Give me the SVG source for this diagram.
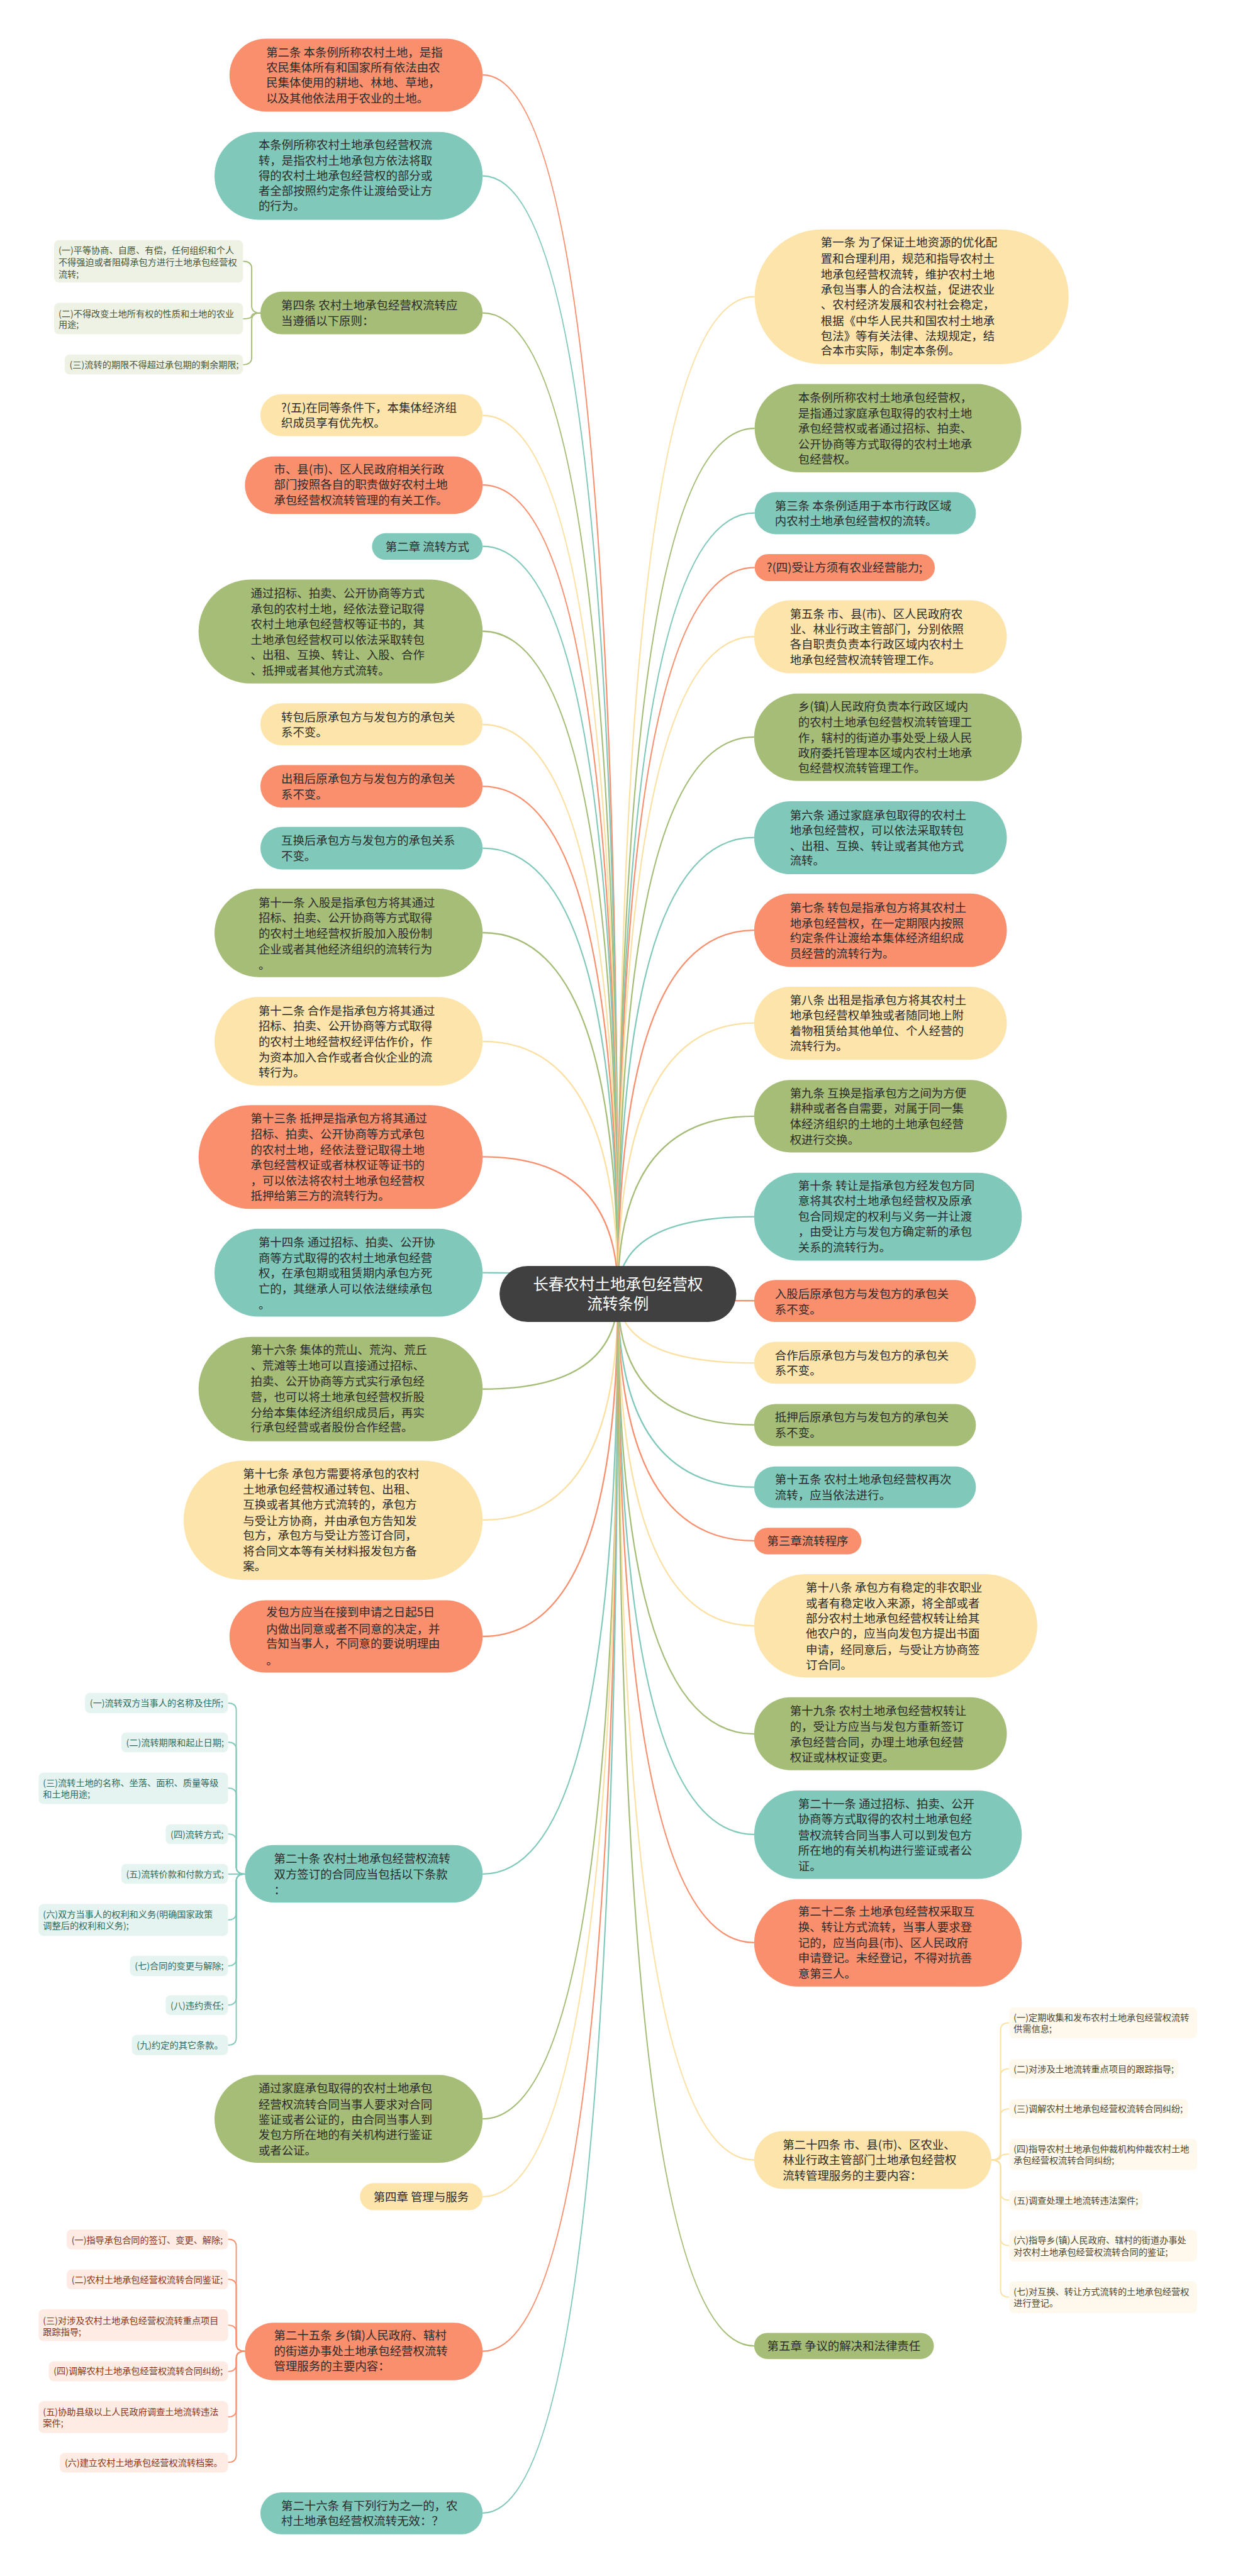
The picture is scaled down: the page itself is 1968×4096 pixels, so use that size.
<svg xmlns="http://www.w3.org/2000/svg" width="1968" height="4096" viewBox="0 0 1968 4096">
<style>
.t{font-family:'Noto Sans CJK SC','Noto Sans',sans-serif;font-size:24px;fill:#2b2b2b}
.lf{font-family:'Noto Sans CJK SC','Noto Sans',sans-serif;font-size:18.5px}
.rt{font-family:'Noto Sans CJK SC','Noto Sans',sans-serif;font-size:32px;fill:#ffffff;text-anchor:middle}
.c{fill:none;stroke-width:3}
.lc{fill:none;stroke-width:2.5}
.o{fill:#fa8f6e}.tl{fill:#80c9ba}.g{fill:#a5bd77}.y{fill:#fde4aa}
.so{stroke:#fa8f6e}.st{stroke:#80c9ba}.sg{stroke:#a5bd77}.sy{stroke:#fbe0a2}
.lgb{fill:#eef2e5}.ltb{fill:#e5f4f0}.lob{fill:#fdebe4}.lyb{fill:#fef9ec}
.lgt{fill:#4a5536}.ltt{fill:#2d6b60}.lot{fill:#8a3418}.lyt{fill:#4d4630}
</style>
<rect width="1968" height="4096" fill="#ffffff"/>
<g transform="scale(0.768)">
<g id="connectors">
<path class="c so" d="M1279,2679 Q1279,155 999,155"/>
<path class="c st" d="M1279,2679 Q1279,364 999,364"/>
<path class="c sg" d="M1279,2679 Q1279,648 999,648"/>
<path class="c sy" d="M1279,2679 Q1279,860 999,860"/>
<path class="c so" d="M1279,2679 Q1279,1004 999,1004"/>
<path class="c st" d="M1279,2679 Q1279,1131 999,1131"/>
<path class="c sg" d="M1279,2679 Q1279,1307 999,1307"/>
<path class="c sy" d="M1279,2679 Q1279,1500 999,1500"/>
<path class="c so" d="M1279,2679 Q1279,1628 999,1628"/>
<path class="c st" d="M1279,2679 Q1279,1756 999,1756"/>
<path class="c sg" d="M1279,2679 Q1279,1931 999,1931"/>
<path class="c sy" d="M1279,2679 Q1279,2156 999,2156"/>
<path class="c so" d="M1279,2679 Q1279,2395 999,2395"/>
<path class="c st" d="M1279,2679 Q1279,2635 999,2635"/>
<path class="c sg" d="M1279,2679 Q1279,2876 999,2876"/>
<path class="c sy" d="M1279,2679 Q1279,3147 999,3147"/>
<path class="c so" d="M1279,2679 Q1279,3388 999,3388"/>
<path class="c st" d="M1279,2679 Q1279,3880 999,3880"/>
<path class="c sg" d="M1279,2679 Q1279,4387 999,4387"/>
<path class="c sy" d="M1279,2679 Q1279,4548 999,4548"/>
<path class="c so" d="M1279,2679 Q1279,4868 999,4868"/>
<path class="c st" d="M1279,2679 Q1279,5203 999,5203"/>
<path class="c sy" d="M1279,2679 Q1279,614 1562,614"/>
<path class="c sg" d="M1279,2679 Q1279,887 1562,887"/>
<path class="c st" d="M1279,2679 Q1279,1062 1562,1062"/>
<path class="c so" d="M1279,2679 Q1279,1175 1562,1175"/>
<path class="c sy" d="M1279,2679 Q1279,1318 1561,1318"/>
<path class="c sg" d="M1279,2679 Q1279,1526 1561,1526"/>
<path class="c st" d="M1279,2679 Q1279,1734 1561,1734"/>
<path class="c so" d="M1279,2679 Q1279,1926 1561,1926"/>
<path class="c sy" d="M1279,2679 Q1279,2118 1561,2118"/>
<path class="c sg" d="M1279,2679 Q1279,2311 1561,2311"/>
<path class="c st" d="M1279,2679 Q1279,2519 1561,2519"/>
<path class="c so" d="M1279,2679 Q1279,2693 1561,2693"/>
<path class="c sy" d="M1279,2679 Q1279,2822 1561,2822"/>
<path class="c sg" d="M1279,2679 Q1279,2950 1561,2950"/>
<path class="c st" d="M1279,2679 Q1279,3079 1561,3079"/>
<path class="c so" d="M1279,2679 Q1279,3190 1561,3190"/>
<path class="c sy" d="M1279,2679 Q1279,3366 1561,3366"/>
<path class="c sg" d="M1279,2679 Q1279,3590 1561,3590"/>
<path class="c st" d="M1279,2679 Q1279,3798 1561,3798"/>
<path class="c so" d="M1279,2679 Q1279,4022 1561,4022"/>
<path class="c sy" d="M1279,2679 Q1279,4472 1561,4472"/>
<path class="c sg" d="M1279,2679 Q1279,4857 1561,4857"/>
<!-- leaf brackets: 第四条 -->
<path class="lc sg" d="M539,648 Q521,648 521,633 L521,556 Q521,541 503,541"/>
<path class="lc sg" d="M539,648 Q521,648 521,654 L521,654 Q521,660 503,660"/>
<path class="lc sg" d="M539,648 Q521,648 521,663 L521,740 Q521,755 503,755"/>
<!-- 第二十条 -->
<path class="lc st" d="M507,3880 Q489,3880 489,3865 L489,3541 Q489,3526 472,3526"/>
<path class="lc st" d="M507,3880 Q489,3880 489,3865 L489,3622 Q489,3607 472,3607"/>
<path class="lc st" d="M507,3880 Q489,3880 489,3865 L489,3717 Q489,3702 472,3702"/>
<path class="lc st" d="M507,3880 Q489,3880 489,3865 L489,3812 Q489,3797 472,3797"/>
<path class="lc st" d="M507,3880 L472,3880"/>
<path class="lc st" d="M507,3880 Q489,3880 489,3895 L489,3960 Q489,3975 472,3975"/>
<path class="lc st" d="M507,3880 Q489,3880 489,3895 L489,4055 Q489,4070 472,4070"/>
<path class="lc st" d="M507,3880 Q489,3880 489,3895 L489,4136 Q489,4151 472,4151"/>
<path class="lc st" d="M507,3880 Q489,3880 489,3895 L489,4219 Q489,4234 472,4234"/>
<!-- 第二十五条 -->
<path class="lc so" d="M507,4868 Q489,4868 489,4853 L489,4651 Q489,4636 472,4636"/>
<path class="lc so" d="M507,4868 Q489,4868 489,4853 L489,4734 Q489,4719 472,4719"/>
<path class="lc so" d="M507,4868 Q489,4868 489,4853 L489,4829 Q489,4814 472,4814"/>
<path class="lc so" d="M507,4868 Q489,4868 489,4883 L489,4895 Q489,4910 472,4910"/>
<path class="lc so" d="M507,4868 Q489,4868 489,4883 L489,4989 Q489,5004 472,5004"/>
<path class="lc so" d="M507,4868 Q489,4868 489,4883 L489,5083 Q489,5098 472,5098"/>
<!-- 第二十四条 -->
<path class="lc sy" d="M2052,4472 Q2071,4472 2071,4457 L2071,4203 Q2071,4188 2089,4188"/>
<path class="lc sy" d="M2052,4472 Q2071,4472 2071,4457 L2071,4298 Q2071,4283 2089,4283"/>
<path class="lc sy" d="M2052,4472 Q2071,4472 2071,4457 L2071,4381 Q2071,4366 2089,4366"/>
<path class="lc sy" d="M2052,4472 Q2071,4472 2071,4466 L2071,4466 Q2071,4460 2089,4460"/>
<path class="lc sy" d="M2052,4472 Q2071,4472 2071,4487 L2071,4540 Q2071,4555 2089,4555"/>
<path class="lc sy" d="M2052,4472 Q2071,4472 2071,4487 L2071,4634 Q2071,4649 2089,4649"/>
<path class="lc sy" d="M2052,4472 Q2071,4472 2071,4487 L2071,4741 Q2071,4756 2089,4756"/>
</g>

<g id="root">
<rect x="1034" y="2621" width="490" height="116" rx="58" fill="#404040"/>
<text class="rt"><tspan x="1279" y="2671">长春农村土地承包经营权</tspan><tspan x="1279" y="2711">流转条例</tspan></text>
</g>

<g id="n-art2"><rect class="o" x="475" y="80" width="524" height="151" rx="75.5"/>
<text class="t"><tspan x="551" y="117">第二条 本条例所称农村土地，是指</tspan><tspan x="551" y="148">农民集体所有和国家所有依法由农</tspan><tspan x="551" y="180">民集体使用的耕地、林地、草地，</tspan><tspan x="551" y="212">以及其他依法用于农业的土地。</tspan></text></g>

<g id="n-def"><rect class="tl" x="444" y="273" width="555" height="182" rx="91"/>
<text class="t"><tspan x="535" y="309">本条例所称农村土地承包经营权流</tspan><tspan x="535" y="341">转，是指农村土地承包方依法将取</tspan><tspan x="535" y="372">得的农村土地承包经营权的部分或</tspan><tspan x="535" y="404">者全部按照约定条件让渡给受让方</tspan><tspan x="535" y="435">的行为。</tspan></text></g>

<g id="n-art4"><rect class="g" x="539" y="604" width="460" height="88" rx="44"/>
<text class="t"><tspan x="582" y="640">第四条 农村土地承包经营权流转应</tspan><tspan x="582" y="673">当遵循以下原则：</tspan></text></g>
<g id="l-art4-1"><rect class="lgb" x="112" y="497" width="391" height="88" rx="10"/>
<text class="lf lgt"><tspan x="121" y="525">(一)平等协商、自愿、有偿，任何组织和个人</tspan><tspan x="121" y="549">不得强迫或者阻碍承包方进行土地承包经营权</tspan><tspan x="121" y="574">流转;</tspan></text></g>
<g id="l-art4-2"><rect class="lgb" x="112" y="627" width="391" height="65" rx="10"/>
<text class="lf lgt"><tspan x="121" y="656">(二)不得改变土地所有权的性质和土地的农业</tspan><tspan x="121" y="679">用途;</tspan></text></g>
<g id="l-art4-3"><rect class="lgb" x="134" y="734" width="369" height="41" rx="10"/>
<text class="lf lgt"><tspan x="144" y="762">(三)流转的期限不得超过承包期的剩余期限;</tspan></text></g>

<g id="n-5"><rect class="y" x="539" y="816" width="460" height="87" rx="43.5"/>
<text class="t"><tspan x="582" y="853">?(五)在同等条件下，本集体经济组</tspan><tspan x="582" y="884">织成员享有优先权。</tspan></text></g>

<g id="n-gov"><rect class="o" x="507" y="945" width="492" height="119" rx="59.5"/>
<text class="t"><tspan x="567" y="981">市、县(市)、区人民政府相关行政</tspan><tspan x="567" y="1012">部门按照各自的职责做好农村土地</tspan><tspan x="567" y="1044">承包经营权流转管理的有关工作。</tspan></text></g>

<g id="n-ch2"><rect class="tl" x="770" y="1104" width="229" height="55" rx="27.5"/>
<text class="t"><tspan x="798" y="1140">第二章 流转方式</tspan></text></g>

<g id="n-bid"><rect class="g" x="411" y="1200" width="588" height="215" rx="107.5"/>
<text class="t"><tspan x="519" y="1237">通过招标、拍卖、公开协商等方式</tspan><tspan x="519" y="1269">承包的农村土地，经依法登记取得</tspan><tspan x="519" y="1301">农村土地承包经营权等证书的，其</tspan><tspan x="519" y="1333">土地承包经营权可以依法采取转包</tspan><tspan x="519" y="1365">、出租、互换、转让、入股、合作</tspan><tspan x="519" y="1397">、抵押或者其他方式流转。</tspan></text></g>

<g id="n-zb"><rect class="y" x="539" y="1456" width="460" height="87" rx="43.5"/>
<text class="t"><tspan x="582" y="1493">转包后原承包方与发包方的承包关</tspan><tspan x="582" y="1525">系不变。</tspan></text></g>

<g id="n-cz"><rect class="o" x="539" y="1584" width="460" height="88" rx="44"/>
<text class="t"><tspan x="582" y="1621">出租后原承包方与发包方的承包关</tspan><tspan x="582" y="1653">系不变。</tspan></text></g>

<g id="n-hh"><rect class="tl" x="539" y="1712" width="460" height="88" rx="44"/>
<text class="t"><tspan x="582" y="1749">互换后承包方与发包方的承包关系</tspan><tspan x="582" y="1781">不变。</tspan></text></g>

<g id="n-art11"><rect class="g" x="444" y="1840" width="555" height="183" rx="91.5"/>
<text class="t"><tspan x="535" y="1877">第十一条 入股是指承包方将其通过</tspan><tspan x="535" y="1909">招标、拍卖、公开协商等方式取得</tspan><tspan x="535" y="1941">的农村土地经营权折股加入股份制</tspan><tspan x="535" y="1974">企业或者其他经济组织的流转行为</tspan><tspan x="535" y="2006">。</tspan></text></g>

<g id="n-art12"><rect class="y" x="444" y="2064" width="555" height="184" rx="92"/>
<text class="t"><tspan x="535" y="2101">第十二条 合作是指承包方将其通过</tspan><tspan x="535" y="2133">招标、拍卖、公开协商等方式取得</tspan><tspan x="535" y="2165">的农村土地经营权经评估作价，作</tspan><tspan x="535" y="2198">为资本加入合作或者合伙企业的流</tspan><tspan x="535" y="2229">转行为。</tspan></text></g>

<g id="n-art13"><rect class="o" x="411" y="2288" width="588" height="215" rx="107.5"/>
<text class="t"><tspan x="519" y="2324">第十三条 抵押是指承包方将其通过</tspan><tspan x="519" y="2357">招标、拍卖、公开协商等方式承包</tspan><tspan x="519" y="2389">的农村土地，经依法登记取得土地</tspan><tspan x="519" y="2421">承包经营权证或者林权证等证书的</tspan><tspan x="519" y="2453">，可以依法将农村土地承包经营权</tspan><tspan x="519" y="2485">抵押给第三方的流转行为。</tspan></text></g>

<g id="n-art14"><rect class="tl" x="444" y="2544" width="555" height="182" rx="91"/>
<text class="t"><tspan x="535" y="2581">第十四条 通过招标、拍卖、公开协</tspan><tspan x="535" y="2613">商等方式取得的农村土地承包经营</tspan><tspan x="535" y="2644">权，在承包期或租赁期内承包方死</tspan><tspan x="535" y="2677">亡的，其继承人可以依法继续承包</tspan><tspan x="535" y="2709">。</tspan></text></g>

<g id="n-art16"><rect class="g" x="411" y="2768" width="588" height="216" rx="108"/>
<text class="t"><tspan x="519" y="2804">第十六条 集体的荒山、荒沟、荒丘</tspan><tspan x="519" y="2836">、荒滩等土地可以直接通过招标、</tspan><tspan x="519" y="2869">拍卖、公开协商等方式实行承包经</tspan><tspan x="519" y="2901">营，也可以将土地承包经营权折股</tspan><tspan x="519" y="2933">分给本集体经济组织成员后，再实</tspan><tspan x="519" y="2964">行承包经营或者股份合作经营。</tspan></text></g>

<g id="n-art17"><rect class="y" x="380" y="3024" width="619" height="247" rx="123.5"/>
<text class="t"><tspan x="503" y="3060">第十七条 承包方需要将承包的农村</tspan><tspan x="503" y="3092">土地承包经营权通过转包、出租、</tspan><tspan x="503" y="3124">互换或者其他方式流转的，承包方</tspan><tspan x="503" y="3157">与受让方协商，并由承包方告知发</tspan><tspan x="503" y="3188">包方，承包方与受让方签订合同，</tspan><tspan x="503" y="3220">将合同文本等有关材料报发包方备</tspan><tspan x="503" y="3251">案。</tspan></text></g>

<g id="n-fbf"><rect class="o" x="475" y="3313" width="524" height="150" rx="75"/>
<text class="t"><tspan x="551" y="3347">发包方应当在接到申请之日起5日</tspan><tspan x="551" y="3381">内做出同意或者不同意的决定，并</tspan><tspan x="551" y="3412">告知当事人，不同意的要说明理由</tspan><tspan x="551" y="3446">。</tspan></text></g>

<g id="n-art20"><rect class="tl" x="507" y="3820" width="492" height="119" rx="59.5"/>
<text class="t"><tspan x="567" y="3857">第二十条 农村土地承包经营权流转</tspan><tspan x="567" y="3889">双方签订的合同应当包括以下条款</tspan><tspan x="567" y="3922">：</tspan></text></g>
<g id="l-art20-1"><rect class="ltb" x="176" y="3505" width="296" height="42" rx="10"/><text class="lf ltt" x="186" y="3533">(一)流转双方当事人的名称及住所;</text></g>
<g id="l-art20-2"><rect class="ltb" x="251" y="3587" width="221" height="41" rx="10"/><text class="lf ltt" x="261" y="3615">(二)流转期限和起止日期;</text></g>
<g id="l-art20-3"><rect class="ltb" x="80" y="3670" width="392" height="65" rx="10"/><text class="lf ltt"><tspan x="89" y="3698">(三)流转土地的名称、坐落、面积、质量等级</tspan><tspan x="89" y="3722">和土地用途;</tspan></text></g>
<g id="l-art20-4"><rect class="ltb" x="343" y="3777" width="129" height="41" rx="10"/><text class="lf ltt" x="353" y="3805">(四)流转方式;</text></g>
<g id="l-art20-5"><rect class="ltb" x="251" y="3859" width="221" height="41" rx="10"/><text class="lf ltt" x="261" y="3887">(五)流转价款和付款方式;</text></g>
<g id="l-art20-6"><rect class="ltb" x="80" y="3942" width="392" height="66" rx="10"/><text class="lf ltt"><tspan x="89" y="3970">(六)双方当事人的权利和义务(明确国家政策</tspan><tspan x="89" y="3994">调整后的权利和义务);</tspan></text></g>
<g id="l-art20-7"><rect class="ltb" x="269" y="4049" width="203" height="42" rx="10"/><text class="lf ltt" x="279" y="4077">(七)合同的变更与解除;</text></g>
<g id="l-art20-8"><rect class="ltb" x="343" y="4131" width="129" height="41" rx="10"/><text class="lf ltt" x="353" y="4159">(八)违约责任;</text></g>
<g id="l-art20-9"><rect class="ltb" x="273" y="4213" width="199" height="42" rx="10"/><text class="lf ltt" x="283" y="4241">(九)约定的其它条款。</text></g>

<g id="n-jt"><rect class="g" x="444" y="4296" width="555" height="182" rx="91"/>
<text class="t"><tspan x="535" y="4332">通过家庭承包取得的农村土地承包</tspan><tspan x="535" y="4366">经营权流转合同当事人要求对合同</tspan><tspan x="535" y="4397">鉴证或者公证的，由合同当事人到</tspan><tspan x="535" y="4429">发包方所在地的有关机构进行鉴证</tspan><tspan x="535" y="4461">或者公证。</tspan></text></g>

<g id="n-ch4"><rect class="y" x="745" y="4520" width="254" height="56" rx="28"/>
<text class="t"><tspan x="773" y="4557">第四章 管理与服务</tspan></text></g>

<g id="n-art25"><rect class="o" x="507" y="4809" width="492" height="119" rx="59.5"/>
<text class="t"><tspan x="567" y="4844">第二十五条 乡(镇)人民政府、辖村</tspan><tspan x="567" y="4876">的街道办事处土地承包经营权流转</tspan><tspan x="567" y="4908">管理服务的主要内容：</tspan></text></g>
<g id="l-art25-1"><rect class="lob" x="138" y="4616" width="334" height="41" rx="10"/><text class="lf lot" x="148" y="4644">(一)指导承包合同的签订、变更、解除;</text></g>
<g id="l-art25-2"><rect class="lob" x="138" y="4699" width="334" height="41" rx="10"/><text class="lf lot" x="148" y="4727">(二)农村土地承包经营权流转合同鉴证;</text></g>
<g id="l-art25-3"><rect class="lob" x="80" y="4781" width="392" height="66" rx="10"/><text class="lf lot"><tspan x="89" y="4811">(三)对涉及农村土地承包经营权流转重点项目</tspan><tspan x="89" y="4834">跟踪指导;</tspan></text></g>
<g id="l-art25-4"><rect class="lob" x="101" y="4889" width="371" height="41" rx="10"/><text class="lf lot" x="111" y="4916">(四)调解农村土地承包经营权流转合同纠纷;</text></g>
<g id="l-art25-5"><rect class="lob" x="80" y="4971" width="392" height="66" rx="10"/><text class="lf lot"><tspan x="89" y="5000">(五)协助县级以上人民政府调查土地流转违法</tspan><tspan x="89" y="5023">案件;</tspan></text></g>
<g id="l-art25-6"><rect class="lob" x="124" y="5078" width="348" height="41" rx="10"/><text class="lf lot" x="134" y="5106">(六)建立农村土地承包经营权流转档案。</text></g>

<g id="n-art26"><rect class="tl" x="539" y="5160" width="460" height="87" rx="43.5"/>
<text class="t"><tspan x="582" y="5197">第二十六条 有下列行为之一的，农</tspan><tspan x="582" y="5228">村土地承包经营权流转无效：？</tspan></text></g>

<!-- right side -->
<g id="n-art1"><rect class="y" x="1562" y="475" width="650" height="279" rx="139.5"/>
<text class="t"><tspan x="1699" y="511">第一条 为了保证土地资源的优化配</tspan><tspan x="1699" y="544">置和合理利用，规范和指导农村土</tspan><tspan x="1699" y="577">地承包经营权流转，维护农村土地</tspan><tspan x="1699" y="608">承包当事人的合法权益，促进农业</tspan><tspan x="1699" y="639">、农村经济发展和农村社会稳定，</tspan><tspan x="1699" y="673">根据《中华人民共和国农村土地承</tspan><tspan x="1699" y="705">包法》等有关法律、法规规定，结</tspan><tspan x="1699" y="735">合本市实际，制定本条例。</tspan></text></g>

<g id="n-def2"><rect class="g" x="1562" y="795" width="552" height="183" rx="91.5"/>
<text class="t"><tspan x="1652" y="832">本条例所称农村土地承包经营权，</tspan><tspan x="1652" y="864">是指通过家庭承包取得的农村土地</tspan><tspan x="1652" y="896">承包经营权或者通过招标、拍卖、</tspan><tspan x="1652" y="928">公开协商等方式取得的农村土地承</tspan><tspan x="1652" y="960">包经营权。</tspan></text></g>

<g id="n-art3"><rect class="tl" x="1562" y="1019" width="458" height="87" rx="43.5"/>
<text class="t"><tspan x="1604" y="1056">第三条 本条例适用于本市行政区域</tspan><tspan x="1604" y="1087">内农村土地承包经营权的流转。</tspan></text></g>

<g id="n-4"><rect class="o" x="1562" y="1147" width="373" height="56" rx="28"/>
<text class="t"><tspan x="1587" y="1183">?(四)受让方须有农业经营能力;</tspan></text></g>

<g id="n-art5"><rect class="y" x="1561" y="1243" width="523" height="151" rx="75.5"/>
<text class="t"><tspan x="1635" y="1280">第五条 市、县(市)、区人民政府农</tspan><tspan x="1635" y="1311">业、林业行政主管部门，分别依照</tspan><tspan x="1635" y="1343">各自职责负责本行政区域内农村土</tspan><tspan x="1635" y="1375">地承包经营权流转管理工作。</tspan></text></g>

<g id="n-town"><rect class="g" x="1561" y="1436" width="554" height="181" rx="90.5"/>
<text class="t"><tspan x="1652" y="1472">乡(镇)人民政府负责本行政区域内</tspan><tspan x="1652" y="1504">的农村土地承包经营权流转管理工</tspan><tspan x="1652" y="1536">作，辖村的街道办事处受上级人民</tspan><tspan x="1652" y="1568">政府委托管理本区域内农村土地承</tspan><tspan x="1652" y="1599">包经营权流转管理工作。</tspan></text></g>

<g id="n-art6"><rect class="tl" x="1561" y="1659" width="523" height="151" rx="75.5"/>
<text class="t"><tspan x="1635" y="1696">第六条 通过家庭承包取得的农村土</tspan><tspan x="1635" y="1728">地承包经营权，可以依法采取转包</tspan><tspan x="1635" y="1760">、出租、互换、转让或者其他方式</tspan><tspan x="1635" y="1791">流转。</tspan></text></g>

<g id="n-art7"><rect class="o" x="1561" y="1850" width="523" height="152" rx="76"/>
<text class="t"><tspan x="1635" y="1888">第七条 转包是指承包方将其农村土</tspan><tspan x="1635" y="1920">地承包经营权，在一定期限内按照</tspan><tspan x="1635" y="1951">约定条件让渡给本集体经济组织成</tspan><tspan x="1635" y="1983">员经营的流转行为。</tspan></text></g>

<g id="n-art8"><rect class="y" x="1561" y="2043" width="523" height="151" rx="75.5"/>
<text class="t"><tspan x="1635" y="2080">第八条 出租是指承包方将其农村土</tspan><tspan x="1635" y="2111">地承包经营权单独或者随同地上附</tspan><tspan x="1635" y="2143">着物租赁给其他单位、个人经营的</tspan><tspan x="1635" y="2175">流转行为。</tspan></text></g>

<g id="n-art9"><rect class="g" x="1561" y="2236" width="523" height="150" rx="75"/>
<text class="t"><tspan x="1635" y="2272">第九条 互换是指承包方之间为方便</tspan><tspan x="1635" y="2304">耕种或者各自需要，对属于同一集</tspan><tspan x="1635" y="2336">体经济组织的土地的土地承包经营</tspan><tspan x="1635" y="2368">权进行交换。</tspan></text></g>

<g id="n-art10"><rect class="tl" x="1561" y="2428" width="554" height="182" rx="91"/>
<text class="t"><tspan x="1652" y="2463">第十条 转让是指承包方经发包方同</tspan><tspan x="1652" y="2495">意将其农村土地承包经营权及原承</tspan><tspan x="1652" y="2527">包合同规定的权利与义务一并让渡</tspan><tspan x="1652" y="2559">，由受让方与发包方确定新的承包</tspan><tspan x="1652" y="2591">关系的流转行为。</tspan></text></g>

<g id="n-rg"><rect class="o" x="1561" y="2650" width="459" height="87" rx="43.5"/>
<text class="t"><tspan x="1604" y="2688">入股后原承包方与发包方的承包关</tspan><tspan x="1604" y="2720">系不变。</tspan></text></g>

<g id="n-hz"><rect class="y" x="1561" y="2778" width="459" height="87" rx="43.5"/>
<text class="t"><tspan x="1604" y="2815">合作后原承包方与发包方的承包关</tspan><tspan x="1604" y="2847">系不变。</tspan></text></g>

<g id="n-dy"><rect class="g" x="1561" y="2907" width="459" height="87" rx="43.5"/>
<text class="t"><tspan x="1604" y="2943">抵押后原承包方与发包方的承包关</tspan><tspan x="1604" y="2975">系不变。</tspan></text></g>

<g id="n-art15"><rect class="tl" x="1561" y="3036" width="459" height="86" rx="43"/>
<text class="t"><tspan x="1604" y="3072">第十五条 农村土地承包经营权再次</tspan><tspan x="1604" y="3104">流转，应当依法进行。</tspan></text></g>

<g id="n-ch3"><rect class="o" x="1561" y="3163" width="222" height="55" rx="27.5"/>
<text class="t"><tspan x="1588" y="3199">第三章流转程序</tspan></text></g>

<g id="n-art18"><rect class="y" x="1561" y="3259" width="586" height="214" rx="107"/>
<text class="t"><tspan x="1668" y="3296">第十八条 承包方有稳定的非农职业</tspan><tspan x="1668" y="3328">或者有稳定收入来源，将全部或者</tspan><tspan x="1668" y="3360">部分农村土地承包经营权转让给其</tspan><tspan x="1668" y="3391">他农户的，应当向发包方提出书面</tspan><tspan x="1668" y="3424">申请，经同意后，与受让方协商签</tspan><tspan x="1668" y="3456">订合同。</tspan></text></g>

<g id="n-art19"><rect class="g" x="1561" y="3514" width="523" height="151" rx="75.5"/>
<text class="t"><tspan x="1635" y="3551">第十九条 农村土地承包经营权转让</tspan><tspan x="1635" y="3583">的，受让方应当与发包方重新签订</tspan><tspan x="1635" y="3616">承包经营合同，办理土地承包经营</tspan><tspan x="1635" y="3647">权证或林权证变更。</tspan></text></g>

<g id="n-art21"><rect class="tl" x="1561" y="3707" width="554" height="183" rx="91.5"/>
<text class="t"><tspan x="1652" y="3743">第二十一条 通过招标、拍卖、公开</tspan><tspan x="1652" y="3775">协商等方式取得的农村土地承包经</tspan><tspan x="1652" y="3808">营权流转合同当事人可以到发包方</tspan><tspan x="1652" y="3840">所在地的有关机构进行鉴证或者公</tspan><tspan x="1652" y="3872">证。</tspan></text></g>

<g id="n-art22"><rect class="o" x="1561" y="3932" width="554" height="181" rx="90.5"/>
<text class="t"><tspan x="1652" y="3966">第二十二条 土地承包经营权采取互</tspan><tspan x="1652" y="3999">换、转让方式流转，当事人要求登</tspan><tspan x="1652" y="4031">记的，应当向县(市)、区人民政府</tspan><tspan x="1652" y="4063">申请登记。未经登记，不得对抗善</tspan><tspan x="1652" y="4095">意第三人。</tspan></text></g>

<g id="n-art24"><rect class="y" x="1561" y="4412" width="491" height="120" rx="60"/>
<text class="t"><tspan x="1620" y="4449">第二十四条 市、县(市)、区农业、</tspan><tspan x="1620" y="4481">林业行政主管部门土地承包经营权</tspan><tspan x="1620" y="4513">流转管理服务的主要内容：</tspan></text></g>
<g id="l-art24-1"><rect class="lyb" x="2089" y="4156" width="389" height="64" rx="10"/><text class="lf lyt"><tspan x="2098" y="4184">(一)定期收集和发布农村土地承包经营权流转</tspan><tspan x="2098" y="4207">供需信息;</tspan></text></g>
<g id="l-art24-2"><rect class="lyb" x="2089" y="4263" width="350" height="40" rx="10"/><text class="lf lyt" x="2098" y="4290">(二)对涉及土地流转重点项目的跟踪指导;</text></g>
<g id="l-art24-3"><rect class="lyb" x="2089" y="4346" width="370" height="40" rx="10"/><text class="lf lyt" x="2098" y="4372">(三)调解农村土地承包经营权流转合同纠纷;</text></g>
<g id="l-art24-4"><rect class="lyb" x="2089" y="4428" width="389" height="65" rx="10"/><text class="lf lyt"><tspan x="2098" y="4456">(四)指导农村土地承包仲裁机构仲裁农村土地</tspan><tspan x="2098" y="4479">承包经营权流转合同纠纷;</tspan></text></g>
<g id="l-art24-5"><rect class="lyb" x="2089" y="4535" width="276" height="41" rx="10"/><text class="lf lyt" x="2098" y="4562">(五)调查处理土地流转违法案件;</text></g>
<g id="l-art24-6"><rect class="lyb" x="2089" y="4617" width="389" height="65" rx="10"/><text class="lf lyt"><tspan x="2098" y="4645">(六)指导乡(镇)人民政府、辖村的街道办事处</tspan><tspan x="2098" y="4669">对农村土地承包经营权流转合同的鉴证;</tspan></text></g>
<g id="l-art24-7"><rect class="lyb" x="2089" y="4723" width="389" height="66" rx="10"/><text class="lf lyt"><tspan x="2098" y="4751">(七)对互换、转让方式流转的土地承包经营权</tspan><tspan x="2098" y="4775">进行登记。</tspan></text></g>

<g id="n-ch5"><rect class="g" x="1561" y="4830" width="372" height="54" rx="27"/>
<text class="t"><tspan x="1588" y="4866">第五章 争议的解决和法律责任</tspan></text></g>
</g>
</svg>
